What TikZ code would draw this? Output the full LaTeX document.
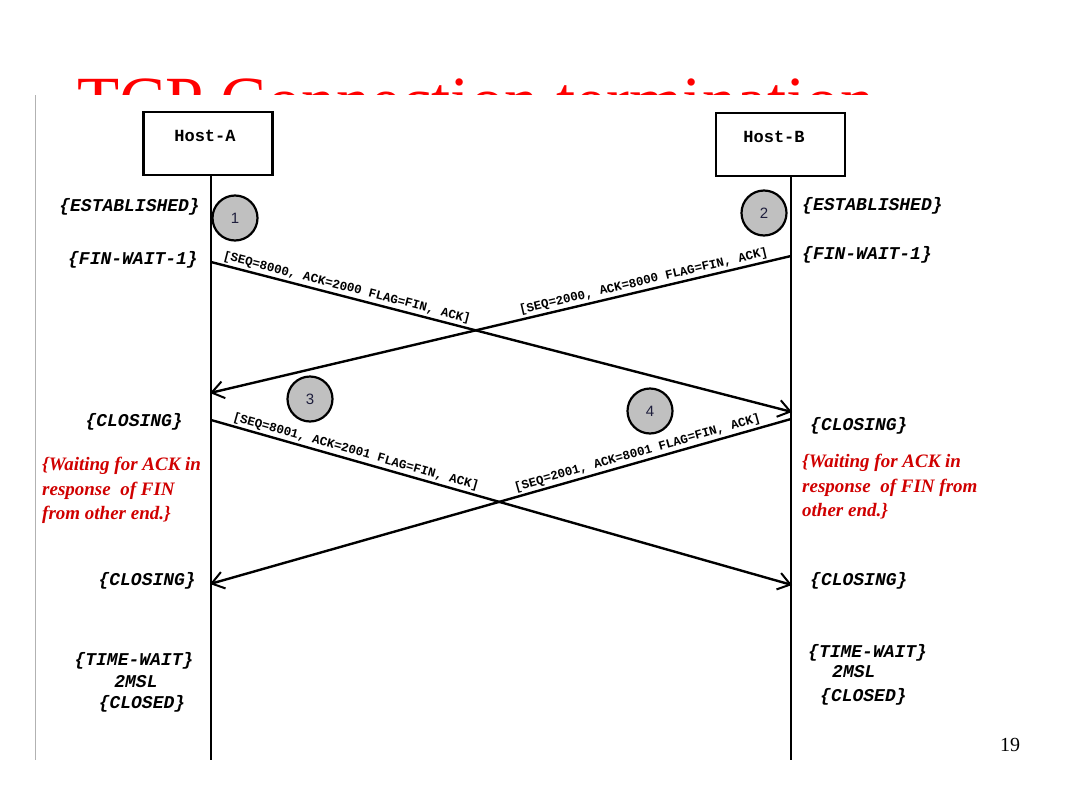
\documentclass[tikz,border=0pt]{standalone}
\usepackage{fontspec}
\setmainfont{Liberation Serif}
\newfontfamily\monofont{Liberation Mono}
\newfontfamily\sansf{Liberation Sans}
\usetikzlibrary{arrows.meta}
\definecolor{titlered}{RGB}{255,0,0}
\definecolor{notered}{RGB}{208,0,0}
\definecolor{circgray}{RGB}{192,192,192}
\definecolor{numcol}{RGB}{30,30,60}
\begin{document}
\begin{tikzpicture}[x=1pt,y=-1pt,
 hostbox/.style={draw, line width=2.6pt, minimum width=129pt, minimum height=63pt, inner sep=0pt,
   text height=12pt, text depth=17pt, font=\monofont\bfseries\fontsize{17}{20}\selectfont},
 state/.style={font=\monofont\bfseries\itshape\fontsize{18}{20}\selectfont, inner sep=0pt},
 note/.style={font=\bfseries\itshape\fontsize{19}{24.5}\selectfont, text=notered, align=left, inner sep=0pt},
 msg/.style={-{Straight Barb[length=12pt,width=17pt,line width=2pt]}, line width=2.4pt},
 msglabel/.style={font=\monofont\bfseries\fontsize{12.5}{14}\selectfont, sloped, above, inner sep=2pt},
 stepnum/.style={circle, draw, line width=2.2pt, fill=circgray, minimum size=45pt, inner sep=0pt, text=numcol, font=\sansf\fontsize{15}{15}\selectfont},
 lifeline/.style={line width=2.2pt}]

\useasboundingbox (0,0) rectangle (1087,787);
\fill[white] (0,0) rectangle (1087,787);
\node[anchor=base west, text=titlered, font=\fontsize{69}{70}\selectfont, inner sep=0pt] (title) at (77,124) {TCP Connection termination};
\fill[white] (35,95) rectangle (1000,787);
\draw[gray!60, line width=0.8pt] (35,95) -- (35,760);

% hosts
\node[hostbox] (hostA) at (208,143.5) {Host-A\hspace*{6pt}};
\node[hostbox] (hostB) at (780.5,144.5) {Host-B\hspace*{13pt}};

% lifelines
\coordinate (aTop) at (211,175);
\coordinate (aBot) at (211,760);
\coordinate (bTop) at (791,176);
\coordinate (bBot) at (791,760);
\draw[lifeline] (aTop) -- (aBot);
\draw[lifeline] (bTop) -- (bBot);

% message end points
\coordinate (a1) at (211,262);
\coordinate (b1) at (792,412);
\coordinate (b2) at (791,256);
\coordinate (a2) at (210,393);
\coordinate (a3) at (211,420);
\coordinate (b3) at (792,585);
\coordinate (b4) at (791,419);
\coordinate (a4) at (210,584);

\draw[msg] (a1) -- node[msglabel, pos=0.23] (m1) {[SEQ=8000, ACK=2000 FLAG=FIN, ACK]} (b1);
\draw[msg] (b2) -- node[msglabel, pos=0.25] (m2) {[SEQ=2000, ACK=8000 FLAG=FIN, ACK]} (a2);
\draw[msg] (a3) -- node[msglabel, pos=0.245] (m3) {[SEQ=8001, ACK=2001 FLAG=FIN, ACK]} (b3);
\draw[msg] (b4) -- node[msglabel, pos=0.26] (m4) {[SEQ=2001, ACK=8001 FLAG=FIN, ACK]} (a4);

% step circles
\node[stepnum] (s1) at (235,218) {1};
\node[stepnum] (s2) at (764,213) {2};
\node[stepnum] (s3) at (310,399) {3};
\node[stepnum] (s4) at (650,411) {4};

% states host A
\node[state, anchor=east] (estA) at (200,207) {\{ESTABLISHED\}};
\node[state, anchor=east] (finA) at (198,260) {\{FIN-WAIT-1\}};
\node[state, anchor=east] (closA1) at (183,422) {\{CLOSING\}};
\node[state, anchor=east] (closA2) at (196,581) {\{CLOSING\}};
\node[state] (twA) at (134,661) {\{TIME-WAIT\}};
\node[state] (msA) at (136,682) {2MSL};
\node[state] (cldA) at (142,704) {\{CLOSED\}};

% states host B
\node[state, anchor=west] (estB) at (802,206) {\{ESTABLISHED\}};
\node[state, anchor=west] (finB) at (802,255) {\{FIN-WAIT-1\}};
\node[state, anchor=west] (closB1) at (810,426) {\{CLOSING\}};
\node[state, anchor=west] (closB2) at (810,581) {\{CLOSING\}};
\node[state, anchor=west] (twB) at (808,653) {\{TIME-WAIT\}};
\node[state, anchor=west] (msB) at (832,672) {2MSL};
\node[state, anchor=west] (cldB) at (820,697) {\{CLOSED\}};

% notes
\node[note, anchor=north west] (noteA) at (42,457) {\{Waiting for ACK in\\response\ \ of FIN\\from other end.\}};
\node[note, anchor=north west] (noteB) at (802,454) {\{Waiting for ACK in\\response\ \ of FIN from\\other end.\}};

% page number
\node[font=\fontsize{20}{20}\selectfont, inner sep=0pt] (pnum) at (1010,745) {19};
\end{tikzpicture}
\end{document}
